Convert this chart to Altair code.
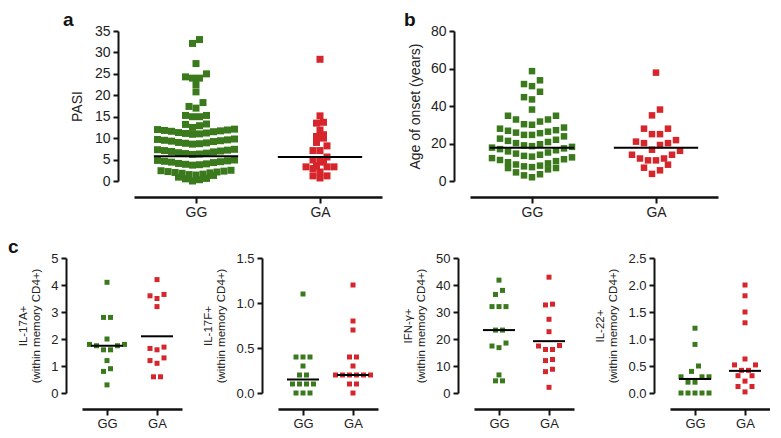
import altair as alt
import pandas as pd

FONT = "Liberation Sans"
groups = ["GG", "GA"]
colors = ["#3a7a1c", "#d6252b"]

# ---- data ----
pasi_gg = [0.0, 0.3, 0.5, 0.6, 0.9,
           1.3, 1.4, 1.5, 1.6, 1.8, 1.9, 2.0, 2.1, 2.2, 2.3, 2.4, 2.5,
           3.7, 3.8, 3.9, 4.0, 4.1, 4.3, 4.4, 4.5, 4.6, 4.7, 4.8, 4.9,
           6.2, 6.3, 6.4, 6.5, 6.6, 6.8, 6.9, 7.0, 7.1, 7.2, 7.3, 7.4,
           8.6, 8.7, 8.8, 8.9, 9.0, 9.2, 9.3, 9.4, 9.5, 9.6, 9.7, 9.8,
           10.9, 11.0, 11.1, 11.2, 11.3, 11.5, 11.6, 11.7, 11.8, 11.9, 12.0, 12.1,
           12.5, 12.9, 13.2, 13.3, 15.0, 15.0, 15.3, 15.3, 17.0, 17.4, 18.3,
           20.8, 22.5, 24.0, 24.0, 24.3, 25.0, 27.4, 32.1, 33.0]
pasi_ga = [0.7, 1.2, 1.2, 2.1, 2.9, 3.3, 3.3, 3.3, 3.5, 4.4, 4.9, 4.9, 5.6,
           7.1, 7.1, 8.2, 9.0, 10.0, 10.4, 10.8, 11.9, 13.5, 13.7, 15.2, 28.4]
onset_gg = [2.0, 3.0, 3.6, 4.6, 6.2, 6.9, 6.9,
            7.4, 7.8, 8.2, 8.8, 9.4, 10.0, 10.6, 11.2, 11.6, 12.2,
            12.6, 13.0, 13.4, 14.0, 14.6, 15.2, 15.8, 16.4, 17.0, 17.4,
            17.8, 18.2, 18.6, 19.0, 19.6, 20.2, 20.8, 21.4, 22.0, 22.6,
            23.8, 24.6, 24.6, 25.5, 25.8, 26.3, 26.8, 27.1, 27.9, 28.5,
            30.0, 30.3, 31.7, 32.8, 32.8, 34.8, 34.8,
            38.1, 43.5, 44.7, 47.6, 50.6, 51.7, 53.7, 58.6]
onset_ga = [3.8, 5.7, 7.1, 8.7, 11.0, 11.0, 12.0, 12.0, 14.0, 14.0, 16.1, 16.7,
            19.2, 20.2, 20.2, 21.0, 21.8, 25.0, 25.0, 27.9, 27.9, 35.0, 38.1, 57.8]
il17a_gg = [4.1, 2.8, 2.8, 2.0, 1.8, 1.8, 1.75, 1.75, 1.6, 1.6, 1.2, 0.9, 0.8, 0.3]
il17a_ga = [4.2, 3.65, 3.6, 3.5, 3.2, 1.7, 1.65, 1.6, 1.3, 1.2, 1.1, 0.6, 0.6]
il17f_gg = [1.1, 0.4, 0.4, 0.4, 0.3, 0.2, 0.2, 0.1, 0.1, 0.1, 0.1, 0.0, 0.0, 0.0]
il17f_ga = [1.2, 0.8, 0.7, 0.4, 0.4, 0.3, 0.2, 0.2, 0.2, 0.2, 0.2, 0.2, 0.1, 0.1, 0.0]
ifng_gg = [41.8, 38.0, 36.5, 32.0, 32.0, 32.0, 23.3, 23.3, 18.5, 17.4, 16.8, 6.7, 4.5, 4.5]
ifng_ga = [42.9, 32.9, 32.6, 27.3, 22.7, 17.6, 17.4, 16.1, 16.1, 12.4, 12.0, 8.8, 7.9, 2.1]
il22_gg = [1.2, 0.9, 0.5, 0.4, 0.3, 0.3, 0.3, 0.2, 0.2, 0.0, 0.0, 0.0, 0.0, 0.0]
il22_ga = [2.0, 1.8, 1.5, 1.3, 0.63, 0.52, 0.52, 0.42, 0.42, 0.32, 0.32, 0.22, 0.12, 0.12, 0.02]

# centre lines (GG, GA)
pasi_lines = [5.8, 5.6]
onset_lines = [17.7, 17.8]
il17a_lines = [1.75, 2.1]
il17f_lines = [0.15, 0.2]
ifng_lines = [23.3, 19.2]
il22_lines = [0.26, 0.41]

y_ticks = {
    "pasi": [0, 5, 10, 15, 20, 25, 30, 35],
    "onset": [0, 20, 40, 60, 80],
    "il17a": [0, 1, 2, 3, 4, 5],
    "il17f": [0.0, 0.5, 1.0, 1.5],
    "ifng": [0, 10, 20, 30, 40, 50],
    "il22": [0.0, 0.5, 1.0, 1.5, 2.0, 2.5],
}


def swarm(values, row_tol, step):
    order = sorted(range(len(values)), key=lambda i: values[i])
    offs = [0.0] * len(values)
    rows, cur = [], []
    for i in order:
        if cur and values[i] - values[cur[0]] > row_tol + 1e-9:
            rows.append(cur)
            cur = []
        cur.append(i)
    if cur:
        rows.append(cur)
    for row in rows:
        n = len(row)
        slots = sorted([k - (n - 1) / 2 for k in range(n)], key=lambda p: (abs(p), p))
        for i, p in zip(row, slots):
            offs[i] = p * step
    return offs


def panel(key, gg, ga, lines, ymax, fmt, title, w, h, sq, step_px, row_px,
          lab_fs, title_fs, title_pad, letter=None, letter_dx=0, half=0.33, tlh=None):
    xunit = w / 2.0
    yunit = h / ymax
    recs = []
    for gi, vals in enumerate([gg, ga]):
        offs = swarm(vals, row_px / yunit, step_px / xunit)
        for v, o in zip(vals, offs):
            recs.append({"group": groups[gi], "x": gi + o, "y": v})
    df = pd.DataFrame(recs)
    ldf = pd.DataFrame({"group": groups, "x1": [i - half for i in range(2)],
                        "x2": [i + half for i in range(2)], "y": lines})
    xscale = alt.Scale(domain=[-0.5, 1.5], nice=False, zero=False)
    yscale = alt.Scale(domain=[0, ymax], nice=False, zero=True)
    xaxis = alt.Axis(values=[0, 1], labelExpr="datum.value < 0.5 ? 'GG' : 'GA'",
                     title=None, grid=False, offset=16, domainWidth=2.5,
                     domainColor="#111", tickColor="#111", tickWidth=2, tickSize=6,
                     labelFontSize=lab_fs, labelFont=FONT, labelColor="#222",
                     labelPadding=2)
    yparams = dict(values=y_ticks[key], title=title, grid=False, offset=16,
                   domainWidth=2, domainColor="#111", tickColor="#111",
                   tickWidth=2, tickSize=5, labelFontSize=lab_fs, labelFont=FONT,
                   labelColor="#222", titleFont=FONT, titleFontSize=title_fs,
                   titleFontWeight="normal", titleColor="#222", titlePadding=title_pad,
                   labelPadding=3)
    if fmt:
        yparams["format"] = fmt
    if tlh:
        yparams["titleLineHeight"] = tlh
    yaxis = alt.Axis(**yparams)
    pts = alt.Chart(df).mark_square(size=sq * sq, opacity=1).encode(
        x=alt.X("x:Q", scale=xscale, axis=xaxis),
        y=alt.Y("y:Q", scale=yscale, axis=yaxis),
        color=alt.Color("group:N", scale=alt.Scale(domain=groups, range=colors), legend=None),
    )
    rule = alt.Chart(ldf).mark_rule(color="black", strokeWidth=2).encode(
        x=alt.X("x1:Q", scale=xscale, axis=xaxis),
        x2="x2:Q",
        y=alt.Y("y:Q", scale=yscale, axis=yaxis),
    )
    layers = [pts, rule]
    if letter:
        lab = alt.Chart(pd.DataFrame({"t": [letter]})).mark_text(
            font=FONT, fontSize=19, fontWeight="bold", color="#111",
            align="left", baseline="alphabetic",
        ).encode(text="t:N", x=alt.value(letter_dx), y=alt.value(-5))
        layers.append(lab)
    return alt.layer(*layers).properties(width=w, height=h)


pa = panel("pasi", pasi_gg, pasi_ga, pasi_lines, 35, None, "PASI", 248, 150, 7, 7, 5.6,
           14, 14, 10, letter="a", letter_dx=-71, half=0.34)
pb = panel("onset", onset_gg, onset_ga, onset_lines, 80, None, "Age of onset (years)", 248, 150,
           6.5, 8, 10, 14, 14, 8, letter="b", letter_dx=-66, half=0.34)
r2 = dict(w=100, h=135, sq=5, step_px=7, row_px=5.4, lab_fs=13, title_fs=11.5, title_pad=9,
          half=0.32, tlh=13)
pc = panel("il17a", il17a_gg, il17a_ga, il17a_lines, 5, None,
           ["IL-17A+", "(within memory CD4+)"], letter="c", letter_dx=-74, **r2)
pd_ = panel("il17f", il17f_gg, il17f_ga, il17f_lines, 1.5, ".1f",
            ["IL-17F+", "(within memory CD4+)"], **r2)
pe = panel("ifng", ifng_gg, ifng_ga, ifng_lines, 50, None,
           ["IFN-\u03b3+", "(within memory CD4+)"], **r2)
pf = panel("il22", il22_gg, il22_ga, il22_lines, 2.5, ".1f",
           ["IL-22+", "(within memory CD4+)"], **r2)

row1 = alt.hconcat(pa, pb, spacing=88, bounds="flush")
row2 = alt.hconcat(pc, pd_, pe, pf, spacing=96, bounds="flush")
chart = alt.vconcat(row1, row2, spacing=19, center=True).properties(
    padding={"left": 0, "top": 3, "right": 0, "bottom": 0}
).configure_view(stroke=None)

chart.save("out.html", embed_options={"renderer": "svg", "actions": False})
